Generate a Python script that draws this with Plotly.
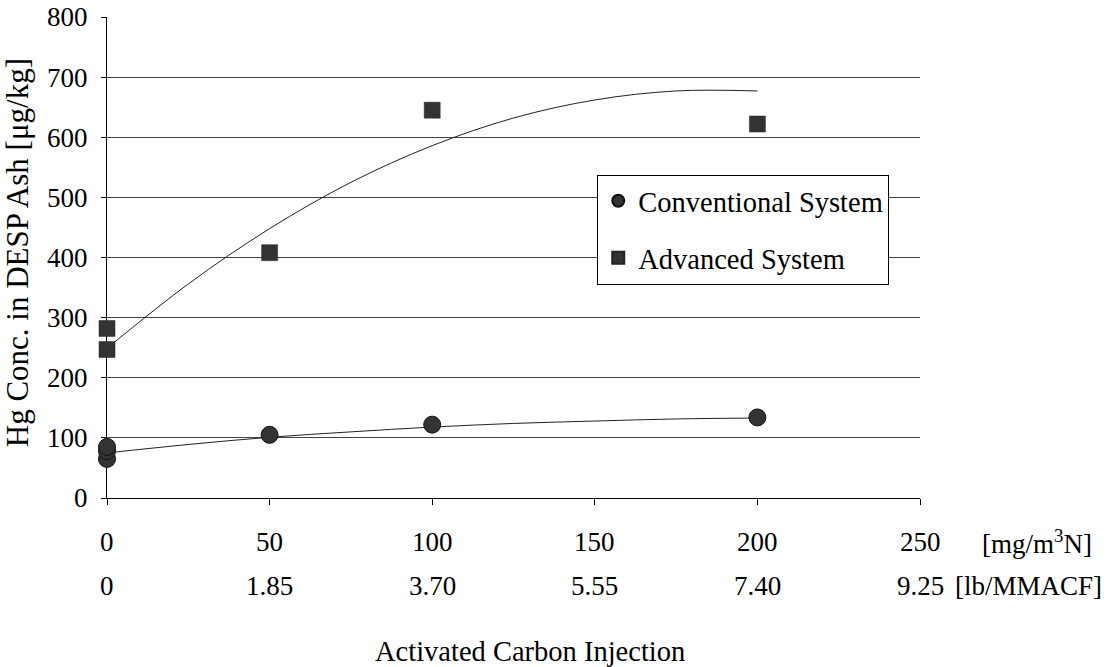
import plotly.graph_objects as go

# Measured data
conv_x = [0, 0, 0, 50, 100, 200]
conv_y = [65, 78, 85, 105, 122, 134]
adv_x = [0, 0, 50, 100, 200]
adv_y = [247, 282, 408, 645, 622]

# Trend curves
trend_x = [0, 25, 50, 75, 100, 125, 150, 175, 200]
conv_trend = [75, 89, 101, 110, 118, 124, 128, 131.5, 133]
adv_trend = [249, 356, 448, 525, 586, 632, 662, 677, 677]

# Axis labels
x_ticks = [0, 50, 100, 150, 200, 250]
x_ticks2 = ["0", "1.85", "3.70", "5.55", "7.40", "9.25"]
y_ticks = [0, 100, 200, 300, 400, 500, 600, 700, 800]

FONT = "Liberation Serif, Times New Roman, serif"
MC = "#333333"
TS = 27

fig = go.Figure()
fig.add_trace(go.Scatter(x=trend_x, y=adv_trend, mode="lines", line=dict(color="#222", width=1, shape="spline"),
                         showlegend=False, hoverinfo="skip"))
fig.add_trace(go.Scatter(x=trend_x, y=conv_trend, mode="lines", line=dict(color="#222", width=1, shape="spline"),
                         showlegend=False, hoverinfo="skip"))
fig.add_trace(go.Scatter(x=conv_x, y=conv_y, mode="markers", name="Conventional System", legendgroup="a",
                         marker=dict(symbol="circle", size=17, color=MC, line=dict(color="#111", width=1)),
                         cliponaxis=False))
fig.add_trace(go.Scatter(x=adv_x, y=adv_y, mode="markers", name="Advanced System", legendgroup="b",
                         marker=dict(symbol="square", size=16, color=MC, line=dict(color="#222", width=0.5)),
                         cliponaxis=False))

ann = []
for xv, t2 in zip(x_ticks, x_ticks2):
    ann.append(dict(x=xv, y=0, xref="x", yref="paper", yshift=-44, text=str(xv), showarrow=False,
                    xanchor="center", yanchor="middle", font=dict(size=TS)))
    ann.append(dict(x=xv, y=0, xref="x", yref="paper", yshift=-88, text=t2, showarrow=False,
                    xanchor="center", yanchor="middle", font=dict(size=TS)))
ann.append(dict(x=1.0738, y=0, xref="paper", yref="paper", yshift=-44, text="[mg/m<sup>3</sup>N]",
                showarrow=False, xanchor="left", yanchor="middle", font=dict(size=TS)))
ann.append(dict(x=1.0406, y=0, xref="paper", yref="paper", yshift=-88, text="[lb/MMACF]",
                showarrow=False, xanchor="left", yanchor="middle", font=dict(size=TS)))
ann.append(dict(x=0.52, y=0, xref="paper", yref="paper", yshift=-153, text="Activated Carbon Injection",
                showarrow=False, xanchor="center", yanchor="middle", font=dict(size=28.5)))
ann.append(dict(x=-0.11, y=0.51, xref="paper", yref="paper", text="Hg Conc. in DESP Ash [μg/kg]",
                textangle=-90, showarrow=False, xanchor="center", yanchor="middle", font=dict(size=31)))

fig.update_layout(
    width=1119, height=667,
    margin=dict(l=107, r=199, t=17, b=169, autoexpand=False),
    paper_bgcolor="white", plot_bgcolor="white",
    font=dict(family=FONT, size=TS, color="black"),
    xaxis=dict(range=[0, 250], tickvals=x_ticks, showticklabels=False, ticks="outside", ticklen=6,
               tickcolor="black", showgrid=False, zeroline=False, showline=True, linecolor="black",
               linewidth=1, layer="below traces", automargin=False),
    yaxis=dict(range=[0, 800], tickvals=y_ticks, ticks="outside", ticklen=5, tickcolor="black",
               showgrid=True, gridcolor="#444", gridwidth=1, zeroline=False, showline=True,
               linecolor="black", linewidth=1, layer="below traces", tickfont=dict(size=TS),
               automargin=False, ticklabelstandoff=8),
    legend=dict(x=0.603, y=0.672, xanchor="left", yanchor="top", bordercolor="black", borderwidth=1,
                bgcolor="white", font=dict(size=28.5), tracegroupgap=17, traceorder="grouped",
                itemsizing="constant"),
    annotations=ann,
)

fig.write_html("out.html")
